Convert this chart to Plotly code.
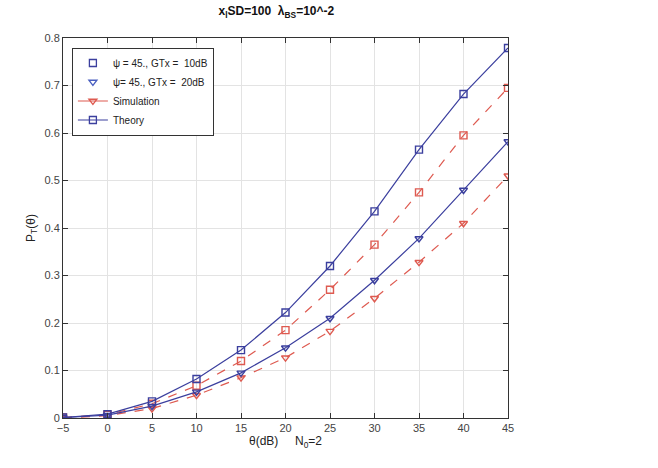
import plotly.graph_objects as go

theta = [-5, 0, 5, 10, 15, 20, 25, 30, 35, 40, 45]
theory_10 = [0.001, 0.008, 0.035, 0.082, 0.143, 0.222, 0.320, 0.435, 0.565, 0.682, 0.779]
sim_10 = [0.001, 0.007, 0.030, 0.068, 0.120, 0.185, 0.270, 0.365, 0.475, 0.595, 0.695]
theory_20 = [0.001, 0.006, 0.025, 0.055, 0.095, 0.148, 0.210, 0.290, 0.378, 0.480, 0.582]
sim_20 = [0.000, 0.005, 0.020, 0.048, 0.085, 0.127, 0.183, 0.252, 0.328, 0.410, 0.510]

x_ticks = [-5, 0, 5, 10, 15, 20, 25, 30, 35, 40, 45]
y_ticks = [0, 0.1, 0.2, 0.3, 0.4, 0.5, 0.6, 0.7, 0.8]
y_tick_labels = ["0", "0.1", "0.2", "0.3", "0.4", "0.5", "0.6", "0.7", "0.8"]

BLUE = "#3b3f9e"
RED = "#de5a50"

fig = go.Figure()

def add(y, color, dash, symbol):
    fig.add_trace(go.Scatter(
        x=theta, y=y, mode="lines+markers", showlegend=False,
        line=dict(color=color, width=1.2, dash=dash),
        marker=dict(symbol=symbol, size=7, color=color, line=dict(width=1.4)),
    ))

add(sim_10, RED, "dash", "square-open")
add(sim_20, RED, "dash", "triangle-down-open")
add(theory_10, BLUE, "solid", "square-open")
add(theory_20, BLUE, "solid", "triangle-down-open")

# legend entries
fig.add_trace(go.Scatter(x=[None], y=[None], mode="markers", name="ψ = 45., GTx =  10dB",
                         marker=dict(symbol="square-open", size=7, color=BLUE, line=dict(width=1.3))))
fig.add_trace(go.Scatter(x=[None], y=[None], mode="markers", name="ψ= 45., GTx =  20dB",
                         marker=dict(symbol="triangle-down-open", size=7, color="#4a5fc0", line=dict(width=1.3))))
fig.add_trace(go.Scatter(x=[None], y=[None], mode="lines+markers", name="Simulation",
                         line=dict(color=RED, width=1.2),
                         marker=dict(symbol="triangle-down-open", size=7, color=RED, line=dict(width=1.3))))
fig.add_trace(go.Scatter(x=[None], y=[None], mode="lines+markers", name="Theory",
                         line=dict(color=BLUE, width=1.2),
                         marker=dict(symbol="square-open", size=7, color=BLUE, line=dict(width=1.3))))

axis_common = dict(showgrid=True, gridcolor="#e3e3e3", gridwidth=1, zeroline=False,
                   showline=True, linecolor="#333333", linewidth=1, mirror="ticks",
                   ticks="inside", ticklen=5, tickcolor="#333333",
                   tickfont=dict(family="Liberation Sans, Arial", size=11, color="#444444"))

fig.update_layout(
    width=658, height=468,
    margin=dict(l=63, r=150, t=38, b=50),
    paper_bgcolor="white", plot_bgcolor="white",
    font=dict(family="Liberation Sans, Arial", size=11, color="#222222"),
    title=dict(text="<b>x<sub>l</sub>SD=100  λ<sub>BS</sub>=10^-2</b>", x=0.42, xanchor="center",
               y=0.985, yanchor="top", font=dict(size=12, color="#111111")),
    xaxis=dict(range=[-5, 45], tickvals=x_ticks,
               title=dict(text="θ(dB)     N<sub>0</sub>=2", standoff=2, font=dict(size=12)),
               **axis_common),
    yaxis=dict(range=[0, 0.8], tickvals=y_ticks, ticktext=y_tick_labels,
               title=dict(text="P<sub>T</sub>(θ)", standoff=6, font=dict(size=12)),
               **axis_common),
    legend=dict(x=0.02, y=0.975, xanchor="left", yanchor="top",
                bgcolor="white", bordercolor="#333333", borderwidth=1,
                font=dict(size=10), tracegroupgap=0, itemwidth=30),
)

fig.write_html("out.html")
